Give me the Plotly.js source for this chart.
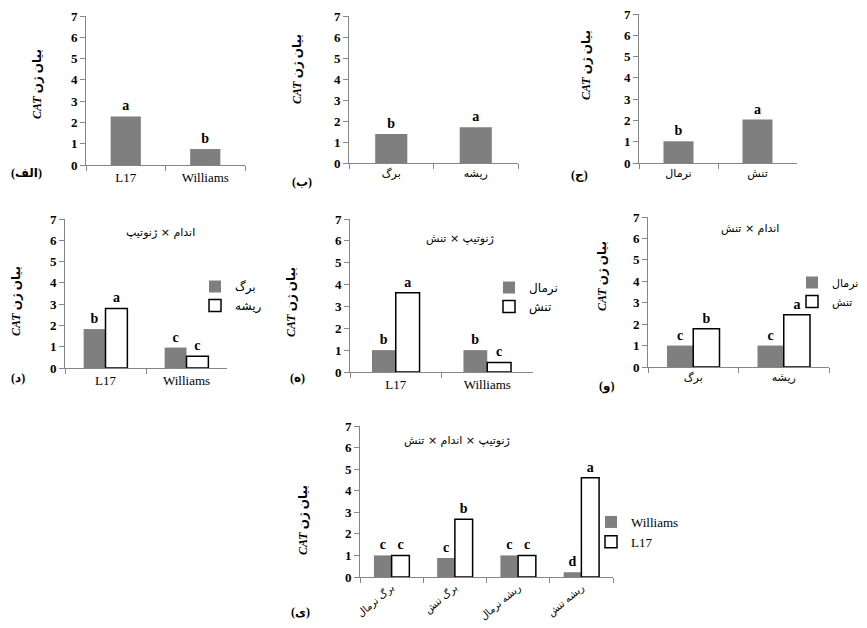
<!DOCTYPE html>
<html>
<head>
<meta charset="utf-8">
<script src="https://cdn.plot.ly/plotly-3.0.1.min.js"></script>
<style>html,body{margin:0;padding:0;background:#fff;}#chart{width:867px;height:628px;}</style>
</head>
<body>
<div id="chart"></div>
<script>
// ---- data ----
const genotypes = ["L17", "Williams"];
const organs = ["برگ", "ریشه"];
const conditions = ["نرمال", "تنش"];
const combos = ["برگ نرمال", "برگ تنش", "ریشه نرمال", "ریشه تنش"];

const genoMean = [2.28, 0.75];
const genoLetters = ["a", "b"];
const organMean = [1.38, 1.70];
const organLetters = ["b", "a"];
const condMean = [1.02, 2.04];
const condLetters = ["b", "a"];

const goLeaf = [1.83, 0.96];
const goRoot = [2.80, 0.55];
const goLeafLetters = ["b", "c"];
const goRootLetters = ["a", "c"];

const gcNormal = [1.0, 1.0];
const gcStress = [3.63, 0.44];
const gcNormalLetters = ["b", "b"];
const gcStressLetters = ["a", "c"];

const ocNormal = [1.0, 1.0];
const ocStress = [1.78, 2.44];
const ocNormalLetters = ["c", "c"];
const ocStressLetters = ["b", "a"];

const gocWilliams = [1.0, 0.88, 1.0, 0.22];
const gocL17 = [1.0, 2.68, 1.0, 4.6];
const gocWilliamsLetters = ["c", "c", "c", "d"];
const gocL17Letters = ["c", "b", "c", "a"];

const yTitle = "<b><i>CAT</i></b> <b>بیان ژن</b>";
const panelLetters = ["الف", "ب", "ج", "د", "ه", "و", "ی"];
const panelTitles = ["اندام × ژنوتیپ", "ژنوتیپ × تنش", "اندام × تنش", "ژنوتیپ × اندام × تنش"];

// ---- style ----
const W = 867, H = 628;
const px = v => v / W;
const py = v => 1 - v / H;
const GRAY = "#7f7f7f";
const SERIF = "Liberation Serif, DejaVu Serif, serif";
const MIX = "Liberation Serif, DejaVu Sans, sans-serif";
const FA = "DejaVu Sans, sans-serif";
const letterFont = {family: SERIF, size: 14, color: "#000", weight: "bold"};

function single(x, y, t, n) {
  return {type: "bar", x: x, y: y, text: t, textposition: "outside", constraintext: "none",
    textfont: letterFont, width: 0.38, marker: {color: GRAY},
    xaxis: "x" + (n === 1 ? "" : n), yaxis: "y" + (n === 1 ? "" : n), showlegend: false,
    hoverinfo: "x+y", cliponaxis: false};
}
function pair(x, yA, tA, nameA, yB, tB, nameB, n, w, leg) {
  const xa = "x" + n, ya = "y" + n;
  return [
    {type: "bar", x: x, y: yA, text: tA, name: nameA, textposition: "outside", constraintext: "none",
      textfont: letterFont, width: w, offset: -w, marker: {color: GRAY, line: {color: GRAY, width: 0}},
      xaxis: xa, yaxis: ya, legend: leg, cliponaxis: false},
    {type: "bar", x: x, y: yB, text: tB, name: nameB, textposition: "outside", constraintext: "none",
      textfont: letterFont, width: w, offset: 0, marker: {color: "#ffffff", line: {color: "#000", width: 1.5}},
      xaxis: xa, yaxis: ya, legend: leg, cliponaxis: false}
  ];
}

const data = [
  single(genotypes, genoMean, genoLetters, 1),
  single(organs, organMean, organLetters, 2),
  single(conditions, condMean, condLetters, 3),
  ...pair(genotypes, goLeaf, goLeafLetters, organs[0], goRoot, goRootLetters, organs[1], 4, 0.27, "legend"),
  ...pair(genotypes, gcNormal, gcNormalLetters, conditions[0], gcStress, gcStressLetters, conditions[1], 5, 0.26, "legend2"),
  ...pair(organs, ocNormal, ocNormalLetters, conditions[0], ocStress, ocStressLetters, conditions[1], 6, 0.29, "legend3"),
  ...pair(combos, gocWilliams, gocWilliamsLetters, genotypes[1], gocL17, gocL17Letters, genotypes[0], 7, 0.28, "legend4")
];

const boxes = [
  [86, 245, 16, 165],
  [349, 518, 16, 163],
  [639, 797, 14, 163],
  [65, 227, 219, 368],
  [350, 533, 219, 372],
  [648, 829, 217, 367],
  [360, 613, 426, 577]
];
const persianX = [false, true, true, false, false, true, true];

const layout = {
  width: W, height: H,
  margin: {l: 0, r: 0, t: 0, b: 0, autoexpand: false},
  paper_bgcolor: "#fff", plot_bgcolor: "#fff",
  barmode: "overlay",
  showlegend: true,
  annotations: [],
  font: {family: MIX, color: "#000"}
};

boxes.forEach((b, i) => {
  const s = i === 0 ? "" : String(i + 1);
  layout["xaxis" + s] = {
    domain: [px(b[0]), px(b[1])], anchor: "y" + s, type: "category",
    showline: true, linecolor: "#868686", linewidth: 1,
    ticks: "outside", tickson: "boundaries", ticklen: 5, tickcolor: "#868686",
    showgrid: false, zeroline: false, fixedrange: true,
    tickfont: {family: persianX[i] ? FA : SERIF, size: i === 6 ? 10 : (persianX[i] ? 11 : 13), color: "#000"},
    tickangle: i === 6 ? -40 : 0
  };
  layout["yaxis" + s] = {
    domain: [py(b[3]), py(b[2])], anchor: "x" + s,
    range: [0, 7], dtick: 1, tick0: 0,
    showline: true, linecolor: "#868686", linewidth: 1,
    ticks: "outside", ticklen: 5, tickcolor: "#868686",
    showgrid: false, zeroline: false, fixedrange: true,
    tickfont: {family: SERIF, size: 13, color: "#000", weight: "bold"}
  };
});

const yTitlePos = [[37, 84], [297, 69], [586, 65], [16, 301], [291, 302], [602, 276], [303, 520]];
yTitlePos.forEach(p => layout.annotations.push({
  xref: "paper", yref: "paper", x: px(p[0]), y: py(p[1]), xanchor: "center", yanchor: "middle",
  text: yTitle, textangle: -90, showarrow: false, font: {family: MIX, size: 12, color: "#000"}
}));

// panel labels: parentheses kept outside an isolated RTL run so they stay in place
const labelPos = [[26, 173], [302, 182], [579, 175], [18, 378], [297, 378], [606, 386], [300, 612]];
labelPos.forEach((p, i) => layout.annotations.push({
  xref: "paper", yref: "paper", x: px(p[0]), y: py(p[1]), xanchor: "center", yanchor: "middle",
  text: "\u200E(\u2067" + panelLetters[i] + "\u2069)\u200E", showarrow: false,
  font: {family: MIX, size: 12, color: "#000", weight: "bold"}
}));

const titlePos = [[160, 233], [460, 238], [750, 229], [457, 440]];
titlePos.forEach((p, i) => layout.annotations.push({
  xref: "paper", yref: "paper", x: px(p[0]), y: py(p[1]), xanchor: "center", yanchor: "middle",
  text: panelTitles[i], showarrow: false, font: {family: FA, size: 11, color: "#000"}
}));

function legendAt(cx, topY, fam, size) {
  return {x: px(cx - 20), y: py(topY), xanchor: "left", yanchor: "top", bgcolor: "rgba(0,0,0,0)",
    borderwidth: 0, font: {family: fam, size: size, color: "#000"},
    traceorder: "normal", orientation: "v"};
}
layout.legend = legendAt(215, 272, FA, 12);
layout.legend2 = legendAt(509, 273, FA, 12);
layout.legend3 = legendAt(812, 268, FA, 11);
layout.legend4 = legendAt(611, 507, SERIF, 13);

Plotly.newPlot("chart", data, layout, {displayModeBar: false, staticPlot: true});
</script>
</body>
</html>
